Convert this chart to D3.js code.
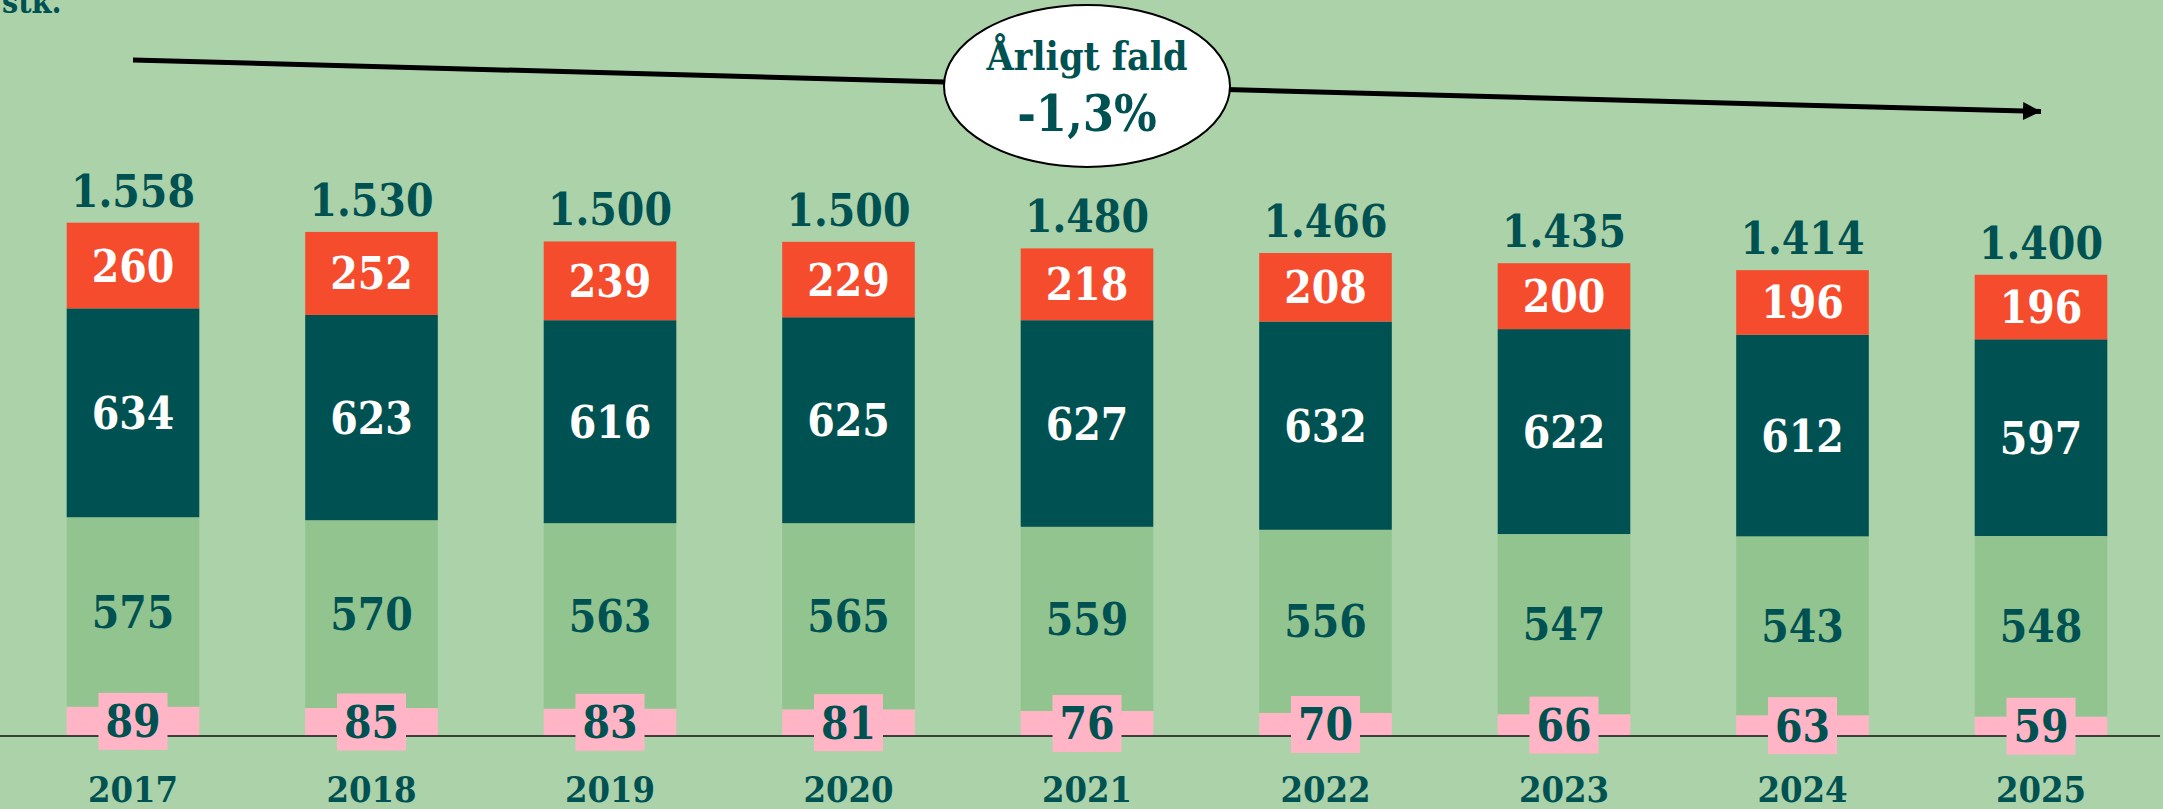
<!DOCTYPE html>
<html>
<head>
<meta charset="utf-8">
<script src="https://cdn.jsdelivr.net/npm/d3@7"></script>
<style>
    html, body { margin: 0; padding: 0; background: #acd2aa; }
    svg { display: block; }
    text { font-family: "DejaVu Serif Condensed", "DejaVu Serif", serif; font-stretch: condensed; font-weight: bold; }
</style>
</head>
<body>
<div id="chart"></div>
<script>
// data, bottom segment first
const years = ["2017", "2018", "2019", "2020", "2021", "2022", "2023", "2024", "2025"];
const pinkValues = [89, 85, 83, 81, 76, 70, 66, 63, 59];
const lightValues = [575, 570, 563, 565, 559, 556, 547, 543, 548];
const darkValues = [634, 623, 616, 625, 627, 632, 622, 612, 597];
const redValues = [260, 252, 239, 229, 218, 208, 200, 196, 196];
const totalLabels = ["1.558", "1.530", "1.500", "1.500", "1.480", "1.466", "1.435", "1.414", "1.400"];
const unitLabel = "stk.";
const trendTitle = "Årligt fald";
const trendValue = "-1,3%";

const W = 2163, H = 809;
const teal = "#005151";

const keys = ["pink", "light", "dark", "red"];
const colors = { pink: "#ffb5c5", light: "#92c490", dark: "#005151", red: "#f54c2e" };
const textColors = { pink: teal, light: teal, dark: "#ffffff", red: "#ffffff" };

const rows = years.map((y, i) => ({
    year: y,
    pink: pinkValues[i],
    light: lightValues[i],
    dark: darkValues[i],
    red: redValues[i],
    total: totalLabels[i]
}));

const stacked = d3.stack().keys(keys)(rows);

const svg = d3.select("#chart").append("svg")
    .attr("width", W)
    .attr("height", H);

const x = d3.scaleBand()
    .domain(years)
    .range([13.75, 2160.25])
    .paddingInner(0.444)
    .paddingOuter(0.222);

const maxTotal = d3.max(stacked[stacked.length - 1], d => d[1]);
const y = d3.scaleLinear()
    .domain([0, maxTotal])
    .range([736, 222.7]);

// bars
const layers = svg.append("g").selectAll("g.layer")
    .data(stacked)
    .join("g")
    .attr("class", "layer")
    .attr("fill", d => colors[d.key]);

layers.selectAll("rect")
    .data(d => d)
    .join("rect")
    .attr("x", d => x(d.data.year))
    .attr("width", x.bandwidth())
    .attr("y", d => y(d[1]))
    .attr("height", d => y(d[0]) - y(d[1]));

// baseline
svg.append("line")
    .attr("x1", 0).attr("x2", 2160)
    .attr("y1", y(0)).attr("y2", y(0))
    .attr("stroke", "#111")
    .attr("stroke-width", 1.6);

// segment labels
for (const layer of stacked) {
    const g = svg.append("g");
    const segs = g.selectAll("g")
        .data(layer)
        .join("g")
        .attr("transform", d => `translate(${x(d.data.year) + x.bandwidth() / 2},${(y(d[0]) + y(d[1])) / 2})`);
    if (layer.key === "pink") {
        segs.append("rect")
            .attr("x", -34.5).attr("y", -28.5)
            .attr("width", 69).attr("height", 57)
            .attr("fill", colors.pink);
    }
    segs.append("text")
        .attr("text-anchor", "middle")
        .attr("y", 16)
        .attr("font-size", 44)
        .attr("fill", textColors[layer.key])
        .text(d => d.data[layer.key]);
}

// totals
svg.append("g").selectAll("text")
    .data(stacked[stacked.length - 1])
    .join("text")
    .attr("x", d => x(d.data.year) + x.bandwidth() / 2)
    .attr("y", d => y(d[1]) - 16)
    .attr("text-anchor", "middle")
    .attr("font-size", 44)
    .attr("fill", teal)
    .text(d => d.data.total);

// x axis labels
const xAxis = d3.axisBottom(x).tickSize(0).tickPadding(0);
const axisG = svg.append("g")
    .attr("transform", "translate(0,802)")
    .call(xAxis);
axisG.select(".domain").remove();
axisG.selectAll("text")
    .attr("dy", 0)
    .attr("y", 0)
    .attr("font-size", 36)
    .attr("fill", teal);

// unit label
svg.append("text")
    .attr("x", 2).attr("y", 13)
    .attr("font-size", 32)
    .attr("fill", teal)
    .text(unitLabel);

// trend arrow
const defs = svg.append("defs");
defs.append("marker")
    .attr("id", "arrow")
    .attr("viewBox", "0 0 10 10")
    .attr("refX", 10).attr("refY", 5)
    .attr("markerWidth", 3.6).attr("markerHeight", 3.6)
    .attr("orient", "auto")
    .append("path")
    .attr("d", "M0,0L10,5L0,10Z")
    .attr("fill", "#000");

const ax1 = x(years[0]) + x.bandwidth() / 2;
const ax2 = x(years[years.length - 1]) + x.bandwidth() / 2;
svg.append("line")
    .attr("x1", ax1).attr("y1", 60)
    .attr("x2", ax2).attr("y2", 111.5)
    .attr("stroke", "#000")
    .attr("stroke-width", 5)
    .attr("marker-end", "url(#arrow)");

// ellipse callout
const cx = 1087, cy = 86;
svg.append("ellipse")
    .attr("cx", cx).attr("cy", cy)
    .attr("rx", 143).attr("ry", 81)
    .attr("fill", "#fff")
    .attr("stroke", "#000")
    .attr("stroke-width", 2);

svg.append("text")
    .attr("x", cx).attr("y", 70)
    .attr("text-anchor", "middle")
    .attr("font-size", 39)
    .attr("fill", teal)
    .text(trendTitle);

svg.append("text")
    .attr("x", cx).attr("y", 131)
    .attr("text-anchor", "middle")
    .attr("font-size", 50)
    .attr("fill", teal)
    .text(trendValue);
</script>
</body>
</html>
